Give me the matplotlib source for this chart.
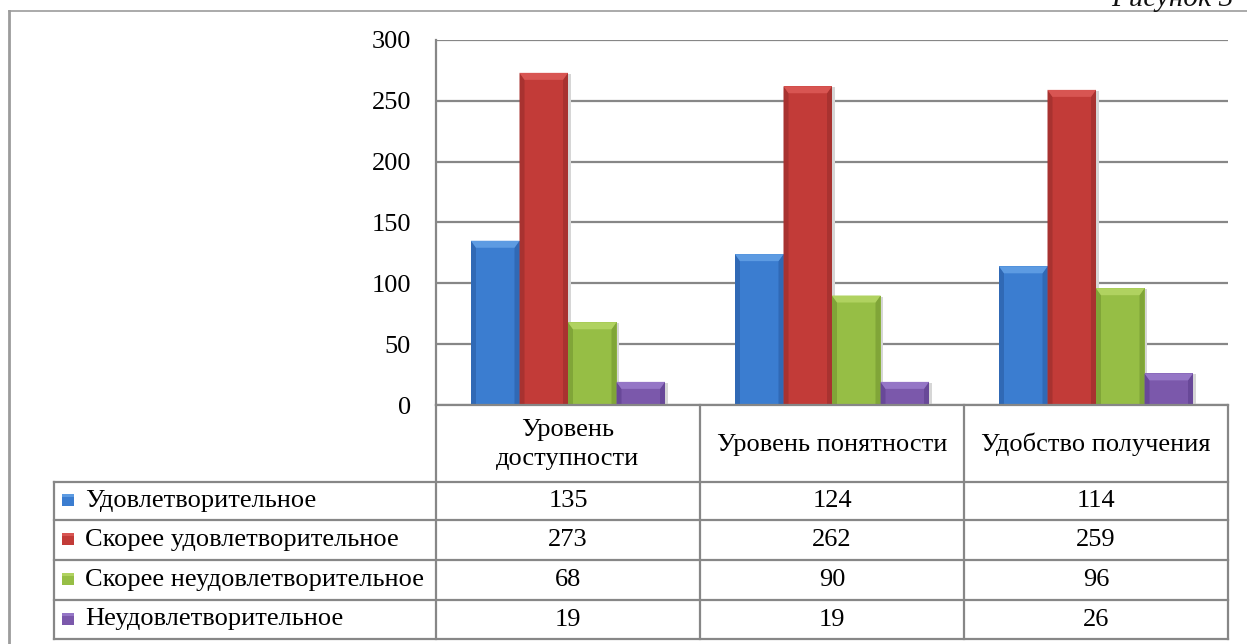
import matplotlib
matplotlib.use("Agg")
import matplotlib.pyplot as plt
from matplotlib.patches import Polygon, Rectangle
from matplotlib.lines import Line2D

# ---- data ----
categories = ["Уровень\nдоступности", "Уровень понятности", "Удобство получения"]
series_names = ["Удовлетворительное", "Скорее удовлетворительное",
                "Скорее неудовлетворительное", "Неудовлетворительное"]
satisfactory = [135, 124, 114]
rather_satisfactory = [273, 262, 259]
rather_unsatisfactory = [68, 90, 96]
unsatisfactory = [19, 19, 26]
y_ticks = [0, 50, 100, 150, 200, 250, 300]

series_values = [satisfactory, rather_satisfactory, rather_unsatisfactory, unsatisfactory]

# body, top bevel, side shade
palette = [
    ("#3b7dd0", "#5d9be2", "#3069b5"),
    ("#c23b38", "#d85552", "#a83230"),
    ("#96be45", "#b0d260", "#80a538"),
    ("#7b58ab", "#9576c6", "#684898"),
]

W, H = 1247, 644
DPI = 100
plt.rcParams['font.family'] = ['Liberation Serif', 'DejaVu Serif']

fig = plt.figure(figsize=(W / DPI, H / DPI), dpi=DPI)


def fx(px):
    return px / W


def fy(py):
    return 1 - py / H


GRID = "#878787"

# outer frame (runs off the right and bottom edges)
fig.add_artist(Line2D([fx(9), fx(1250)], [fy(11), fy(11)], color="#9c9c9c", lw=1.2))
fig.add_artist(Line2D([fx(9), fx(9)], [fy(11), fy(650)], color="#9c9c9c", lw=2.0))

# caption, partly above the top edge
fig.text(fx(1234), fy(6), "Рисунок 3", ha="right", va="baseline",
         fontsize=21, style="italic", color="#111111")

L, R, T, B = 436, 1228, 40, 405
ax = fig.add_axes([fx(L), fy(B), fx(R - L), (B - T) / H])
ax.set_xlim(-0.5, 2.5)
ax.set_ylim(0, 300)
ax.set_yticks(y_ticks)
ax.set_yticklabels([str(t) for t in y_ticks], fontsize=19)
ax.tick_params(axis="y", length=0, pad=18)
ax.set_xticks([])
for s in ["top", "right", "bottom"]:
    ax.spines[s].set_visible(False)
ax.spines["left"].set_color(GRID)
ax.spines["left"].set_linewidth(1.6)
ax.yaxis.grid(True, color=GRID, lw=1.6)
ax.set_axisbelow(True)

bar_w = 48.5 / 264.0
px_x = 3.0 / (R - L)        # data units per pixel, x
px_y = 300.0 / (B - T)      # data units per pixel, y

for i, vals in enumerate(series_values):
    body, top, side = palette[i]
    xs = [c + (i - 1.5) * bar_w for c in range(len(categories))]
    bars = ax.bar(xs, vals, width=bar_w, color=body, edgecolor="none", zorder=3)
    for b in bars:
        x0, x1 = b.get_x(), b.get_x() + b.get_width()
        h = b.get_height()
        sx, sy = 5 * px_x, 7 * px_y
        # soft shadow on the right
        ax.add_patch(Rectangle((x1, 0), 2.5 * px_x, h - 1 * px_y, color="#d6d6d6",
                               zorder=2.5, lw=0))
        # side shades
        ax.add_patch(Polygon([(x0, 0), (x0 + sx, 0), (x0 + sx, h - sy), (x0, h)],
                             closed=True, color=side, lw=0, zorder=3.1))
        ax.add_patch(Polygon([(x1, 0), (x1 - sx, 0), (x1 - sx, h - sy), (x1, h)],
                             closed=True, color=side, lw=0, zorder=3.1))
        # top bevel
        ax.add_patch(Polygon([(x0, h), (x1, h), (x1 - sx, h - sy), (x0 + sx, h - sy)],
                             closed=True, color=top, lw=0, zorder=3.2))

# ---- data table ----
TL = 54
col_edges = [L, 700, 964, R]
row_edges = [B, 482, 520, 560, 600, 639]
LW = 1.6


def hline(y, x0, x1):
    fig.add_artist(Line2D([fx(x0), fx(x1)], [fy(y), fy(y)], color=GRID, lw=LW))


def vline(x, y0, y1):
    fig.add_artist(Line2D([fx(x), fx(x)], [fy(y0), fy(y1)], color=GRID, lw=LW))


hline(B, L, R)
for y in row_edges[1:]:
    hline(y, TL, R)
vline(TL, row_edges[1], row_edges[-1])
for x in col_edges:
    vline(x, B, row_edges[-1])

FS = 19
for j, cat in enumerate(categories):
    cx = (col_edges[j] + col_edges[j + 1]) / 2
    cy = (row_edges[0] + row_edges[1]) / 2 + 1
    fig.text(fx(cx), fy(cy), cat, ha="center", va="center", fontsize=FS,
             linespacing=1.45)

for i, name in enumerate(series_names):
    cy = (row_edges[i + 1] + row_edges[i + 2]) / 2
    body, top, side = palette[i]
    fig.add_artist(Rectangle((fx(62), fy(cy + 5)), fx(12), 12 / H, color=body,
                             transform=fig.transFigure, lw=0))
    fig.add_artist(Rectangle((fx(62), fy(cy - 4)), fx(12), 3 / H, color=top,
                             transform=fig.transFigure, lw=0))
    fig.text(fx(85), fy(cy), name, ha="left", va="center", fontsize=FS)
    for j in range(len(categories)):
        cx = (col_edges[j] + col_edges[j + 1]) / 2
        fig.text(fx(cx), fy(cy), str(series_values[i][j]), ha="center",
                 va="center", fontsize=FS)

fig.savefig("out.png", dpi=DPI)
